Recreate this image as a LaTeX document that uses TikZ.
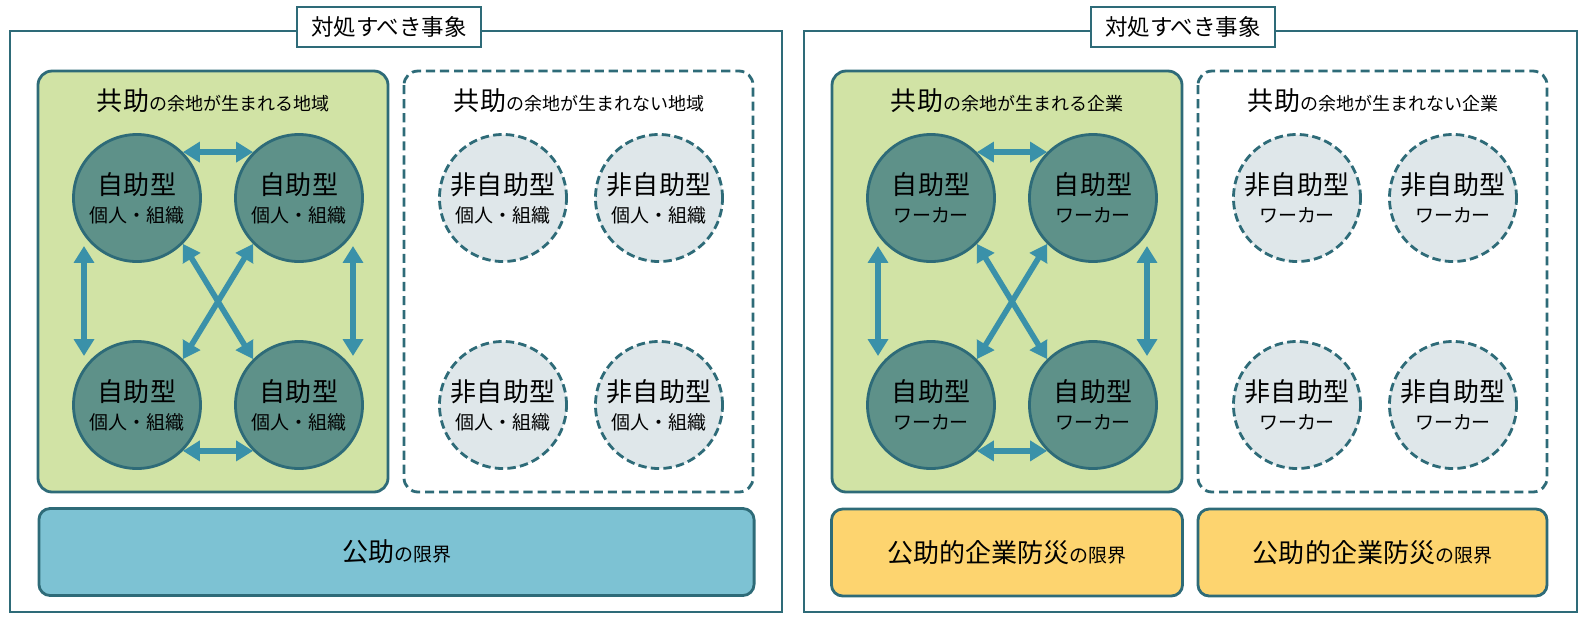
\documentclass[tikz,border=0pt]{standalone}
\usepackage{fontspec}
\setmainfont{Noto Sans CJK JP}
\usetikzlibrary{arrows.meta,positioning}

\definecolor{waku}{HTML}{2E6B78}
\definecolor{midori}{HTML}{D1E3A5}
\definecolor{maru}{HTML}{5E9189}
\definecolor{usui}{HTML}{DFE7EA}
\definecolor{mizu}{HTML}{7DC2D3}
\definecolor{kiiro}{HTML}{FDD46F}
\definecolor{ya}{HTML}{3A91A9}

\newcommand\omoji[1]{{\fontsize{18.5}{22}\selectfont #1}}

\begin{document}
\begin{tikzpicture}[
  x=0.025cm, y=-0.025cm,
  outer/.style={draw=waku, line width=2pt},
  title/.style={draw=waku, line width=2pt, fill=white, minimum width=4.6cm,
    minimum height=1cm, inner sep=0pt, font=\fontsize{16}{18}\selectfont},
  kyojo/.style={draw=waku, line width=2pt, fill=midori, rounded corners=10pt},
  nashi/.style={draw=waku, line width=2pt, dash pattern=on 6.5pt off 3.5pt,
    rounded corners=10pt},
  midashi/.style={font=\fontsize{12.8}{16}\selectfont, inner sep=0pt},
  jijo/.style={circle, draw=waku, line width=2pt, fill=maru, minimum size=3.175cm,
    inner sep=0pt, align=center, font=\fontsize{13.5}{20}\selectfont},
  hijijo/.style={jijo, fill=usui, dash pattern=on 6pt off 3pt},
  kojo/.style={draw=waku, line width=2pt, rounded corners=8pt,
    minimum height=2.175cm, inner sep=0pt, font=\fontsize{13.5}{18}\selectfont},
  sogo/.style={{Triangle[width=14pt,length=12pt]}-{Triangle[width=14pt,length=12pt]},
    draw=ya, line width=4pt}
]
\useasboundingbox (0,0) rectangle (1594,621);

% left: 地域
\draw[outer] (10,31) rectangle (782,612);
\node[title] (t1) at (389,27) {対処すべき事象};
\draw[kyojo] (38,71) rectangle (388,492);
\draw[nashi] (404,71) rectangle (753,492);
\node[midashi] (h1) at (213,101) {\omoji{共助}の余地が生まれる地域};
\node[midashi] (h2) at (579,101) {\omoji{共助}の余地が生まれない地域};

\node[jijo] (a1) at (137,198) {\omoji{自助型}\\個人・組織};
\node[jijo] (a2) at (299,198) {\omoji{自助型}\\個人・組織};
\node[jijo] (a3) at (137,405) {\omoji{自助型}\\個人・組織};
\node[jijo] (a4) at (299,405) {\omoji{自助型}\\個人・組織};
\node[hijijo] (n1) at (503,198) {\omoji{非自助型}\\個人・組織};
\node[hijijo] (n2) at (659,198) {\omoji{非自助型}\\個人・組織};
\node[hijijo] (n3) at (503,405) {\omoji{非自助型}\\個人・組織};
\node[hijijo] (n4) at (659,405) {\omoji{非自助型}\\個人・組織};

\draw[sogo] (a1.45) -- (a2.135);
\draw[sogo] (a3.-45) -- (a4.-135);
\draw[sogo] (a1.-45) -- (a4.135);
\draw[sogo] (a2.-135) -- (a3.45);
\draw[sogo] ([shift={(-53,48)}]a1.center) -- ([shift={(-53,-49)}]a3.center);
\draw[sogo] ([shift={(54,48)}]a2.center) -- ([shift={(54,-49)}]a4.center);

\node[kojo, fill=mizu, minimum width=17.875cm] (k1) at (396.5,552)
  {\omoji{公助}の限界};

% right: 企業
\begin{scope}[shift={(794,0)}]
\draw[outer] (10,31) rectangle (783,612);
\node[title] (t2) at (389,27) {対処すべき事象};
\draw[kyojo] (38,71) rectangle (388,492);
\draw[nashi] (404,71) rectangle (753,492);
\node[midashi] (h3) at (213,101) {\omoji{共助}の余地が生まれる企業};
\node[midashi] (h4) at (579,101) {\omoji{共助}の余地が生まれない企業};

\node[jijo] (b1) at (137,198) {\omoji{自助型}\\ワーカー};
\node[jijo] (b2) at (299,198) {\omoji{自助型}\\ワーカー};
\node[jijo] (b3) at (137,405) {\omoji{自助型}\\ワーカー};
\node[jijo] (b4) at (299,405) {\omoji{自助型}\\ワーカー};
\node[hijijo] (m1) at (503,198) {\omoji{非自助型}\\ワーカー};
\node[hijijo] (m2) at (659,198) {\omoji{非自助型}\\ワーカー};
\node[hijijo] (m3) at (503,405) {\omoji{非自助型}\\ワーカー};
\node[hijijo] (m4) at (659,405) {\omoji{非自助型}\\ワーカー};

\draw[sogo] (b1.45) -- (b2.135);
\draw[sogo] (b3.-45) -- (b4.-135);
\draw[sogo] (b1.-45) -- (b4.135);
\draw[sogo] (b2.-135) -- (b3.45);
\draw[sogo] ([shift={(-53,48)}]b1.center) -- ([shift={(-53,-49)}]b3.center);
\draw[sogo] ([shift={(54,48)}]b2.center) -- ([shift={(54,-49)}]b4.center);

\node[kojo, fill=kiiro, minimum width=8.775cm] (k2) at (213,552.5)
  {\omoji{公助的企業防災}の限界};
\node[kojo, fill=kiiro, minimum width=8.725cm] (k3) at (578.5,552.5)
  {\omoji{公助的企業防災}の限界};
\end{scope}
\end{tikzpicture}
\end{document}
